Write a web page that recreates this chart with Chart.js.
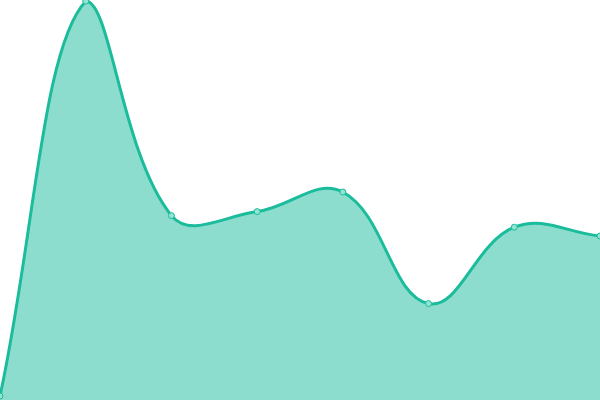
<!DOCTYPE html>
<html>
<head>
<meta charset="utf-8">
<script src="https://cdn.jsdelivr.net/npm/chart.js@4"></script>
<style>
html, body { margin: 0; padding: 0; background: #fff; }
#wrap { width: 600px; height: 400px; }
</style>
</head>
<body>
<div id="wrap"><canvas id="areaChart"></canvas></div>
<script>
// data
const labels = ['A', 'B', 'C', 'D', 'E', 'F', 'G', 'H'];
const values = [1, 99.7, 46.1, 47.1, 52, 24.1, 43.2, 41];
const yMin = 0;
const yMax = 100;

const ctx = document.getElementById('areaChart').getContext('2d');
new Chart(ctx, {
type: 'line',
data: {
labels: labels,
datasets: [{
    data: values,
    fill: 'start',
    backgroundColor: 'rgba(26, 188, 156, 0.5)',
    borderColor: '#1abc9c',
    borderWidth: 3,
    tension: 0.4,
    pointRadius: 3,
    pointBorderWidth: 1,
    pointBackgroundColor: '#93e2d2',
    pointBorderColor: '#1abc9c',
}],
},
options: {
responsive: true,
maintainAspectRatio: false,
animation: false,
layout: { padding: 0, autoPadding: false },
plugins: {
    legend: { display: false },
    tooltip: { enabled: false },
},
scales: {
    x: { display: false },
    y: { display: false, min: yMin, max: yMax },
},
},
});
</script>
</body>
</html>
